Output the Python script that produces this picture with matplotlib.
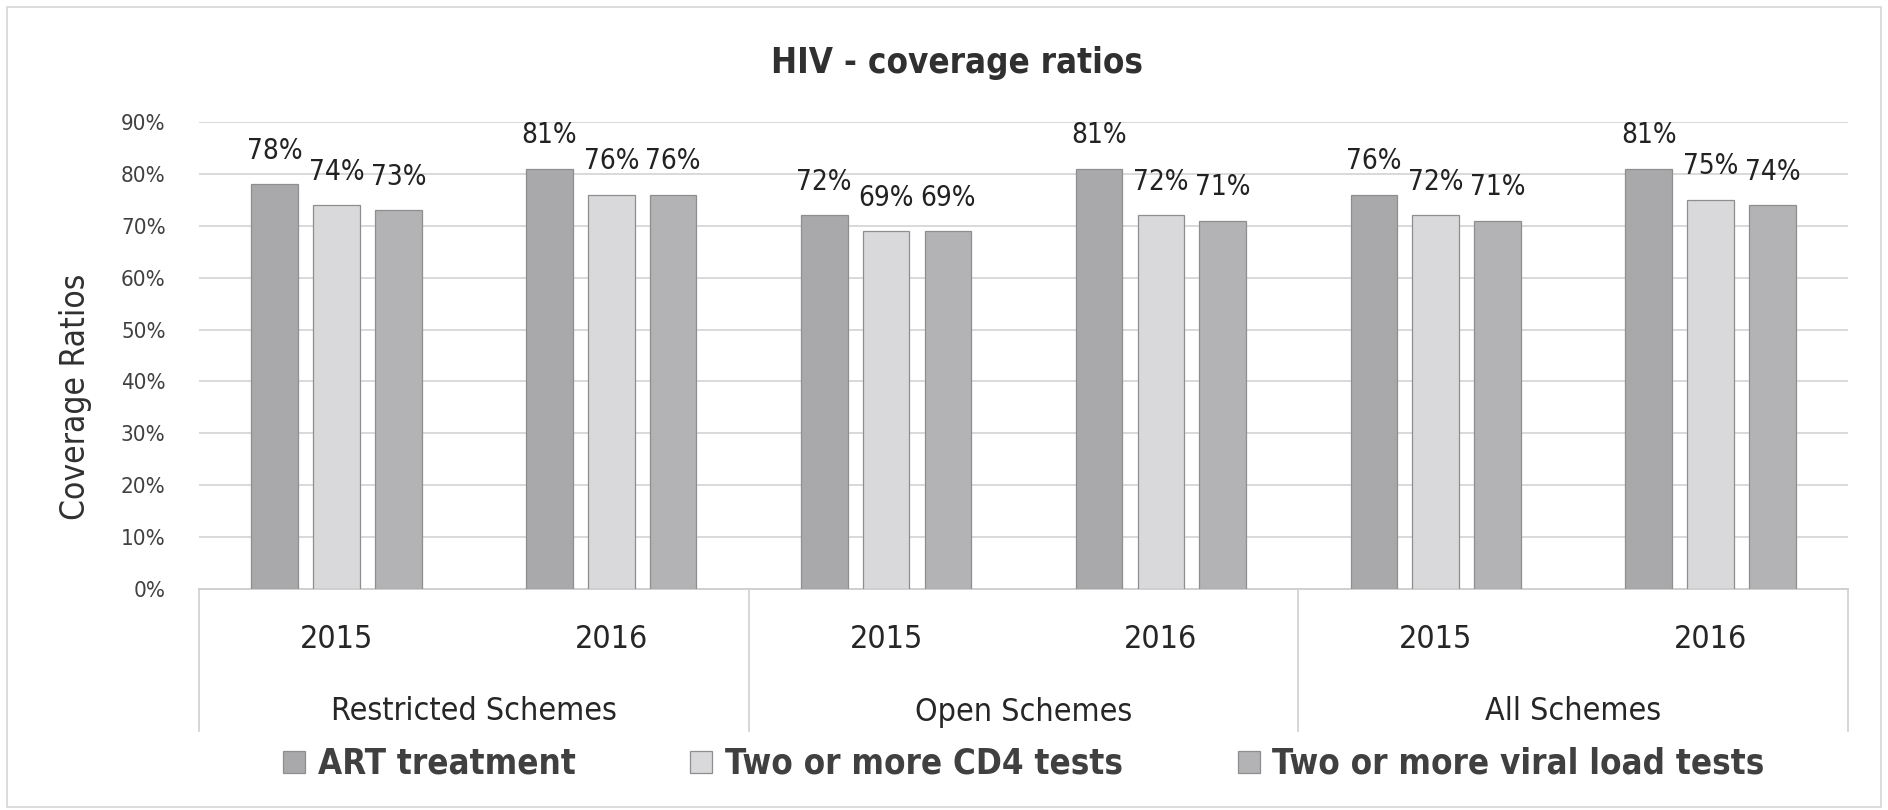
import matplotlib
matplotlib.use("Agg")
import matplotlib.pyplot as plt
from matplotlib.patches import Rectangle
from matplotlib.lines import Line2D
from matplotlib.ticker import PercentFormatter
from matplotlib.font_manager import FontProperties

# --- data -------------------------------------------------------------
groups = ["Restricted Schemes", "Open Schemes", "All Schemes"]
years = ["2015", "2016"]
series = ["ART treatment", "Two or more CD4 tests", "Two or more viral load tests"]
art = [78, 81, 72, 81, 76, 81]
cd4 = [74, 76, 69, 72, 72, 75]
viral = [73, 76, 69, 71, 71, 74]
yticks = list(range(0, 91, 10))

colors = ["#a9a9ab", "#d9d9dc", "#b3b3b5"]

plt.rcParams["font.family"] = ["DejaVu Sans"]
plt.rcParams["font.stretch"] = "condensed"


def fp(size, weight="normal"):
    return FontProperties(family="DejaVu Sans", stretch="condensed", size=size, weight=weight)


W, H = 1888, 810
fig = plt.figure(figsize=(W / 100, H / 100), dpi=100)
fig.patch.set_facecolor("white")

left, right, top, bottom = 199, 1848, 122, 589
ax = fig.add_axes([left / W, 1 - bottom / H, (right - left) / W, (bottom - top) / H])

n = len(art)
xs = list(range(n))
width = 0.17
step = 0.225
for k, vals in enumerate([art, cd4, viral]):
    pos = [x + (k - 1) * step for x in xs]
    bars = ax.bar(pos, vals, width=width, color=colors[k], edgecolor="#8e8e8e",
                  linewidth=0.9, zorder=3, label=series[k])
    for b, v in zip(bars, vals):
        ax.annotate(f"{v}%", (b.get_x() + b.get_width() / 2, v),
                    xytext=(0, 14), textcoords="offset points",
                    ha="center", va="bottom", color="#222222",
                    fontproperties=fp(20))

ax.set_xlim(-0.5, n - 0.5)
ax.set_ylim(0, 90)
ax.set_yticks(yticks)
ax.yaxis.set_major_formatter(PercentFormatter(decimals=0))
ax.tick_params(axis="y", length=0, labelcolor="#404040", pad=24)
for lab in ax.get_yticklabels():
    lab.set_fontproperties(fp(16))
ax.set_xticks([])
ax.grid(axis="y", color="#d9d9d9", linewidth=1.4, zorder=0)
for s in ["top", "right", "left"]:
    ax.spines[s].set_visible(False)
ax.spines["bottom"].set_color("#d0d0d0")
ax.spines["bottom"].set_linewidth(1.4)

# two-level category axis
trans = ax.get_xaxis_transform()
axh = bottom - top
year_y = -(639 - bottom) / axh
group_y = -(712 - bottom) / axh
box_y = -(731 - bottom) / axh
for i in range(n):
    ax.text(i, year_y, years[i % 2], transform=trans, ha="center", va="center",
            color="#262626", clip_on=False, fontproperties=fp(23))
for g, name in enumerate(groups):
    ax.text(2 * g + 0.5, group_y, name, transform=trans, ha="center", va="center",
            color="#262626", clip_on=False, fontproperties=fp(23))
for xb in [-0.5, 1.5, 3.5, 5.5]:
    ax.add_line(Line2D([xb, xb], [0, box_y], transform=trans, color="#d0d0d0",
                       linewidth=1.2, clip_on=False))

# title and axis label
fig.text(957 / W, 1 - 63 / H, "HIV - coverage ratios", ha="center", va="center",
         color="#303030", fontproperties=fp(25, "bold"))
fig.text(75 / W, 1 - 397 / H, "Coverage Ratios", rotation=90, ha="center", va="center",
         color="#303030", fontproperties=FontProperties(family="DejaVu Sans", size=24))

# legend
handles, labels = ax.get_legend_handles_labels()
leg = fig.legend(handles, labels, ncol=3, loc="center", bbox_to_anchor=(1024 / W, 1 - 764 / H),
                 frameon=False, handlelength=0.63, handleheight=0.58, handletextpad=0.37,
                 columnspacing=3.3, prop=fp(25, "bold"))
for t in leg.get_texts():
    t.set_color("#404040")

# outer frame
fig.patches.append(Rectangle((7 / W, 3 / H), (W - 14) / W, (H - 10) / H,
                             transform=fig.transFigure, fill=False,
                             edgecolor="#d6d6d6", linewidth=1.2))

fig.savefig("out.png", dpi=100, facecolor="white")
